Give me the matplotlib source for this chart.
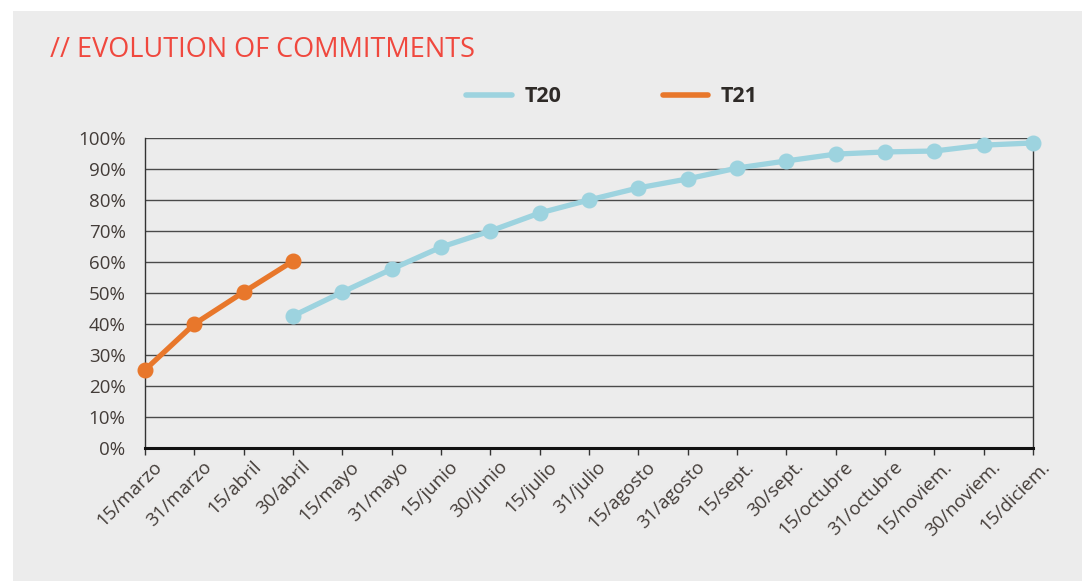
import matplotlib.pyplot as plt
from matplotlib.patches import Rectangle
from matplotlib.lines import Line2D
import matplotlib.transforms as mtransforms
import numpy as np

fechas = ['15/marzo', '31/marzo', '15/abril', '30/abril', '15/mayo', '31/mayo',
          '15/junio', '30/junio', '15/julio', '31/julio', '15/agosto', '31/agosto',
          '15/sept.', '30/sept.', '15/octubre', '31/octubre', '15/noviem.',
          '30/noviem.', '15/diciem.']

t21 = [25.2, 40.0, 50.3, 60.3]
t20 = [42.6, 50.3, 57.7, 64.8, 70.0, 75.8, 80.0, 83.9, 86.8, 90.3, 92.6,
       94.8, 95.5, 95.8, 97.7, 98.4]

c20 = '#9dd3df'
c21 = '#e8772b'
txt = '#433c38'
bg = '#ececec'

W, H = 1082, 581
fig = plt.figure(figsize=(W / 100, H / 100), dpi=100, facecolor='white')
fig.patches.append(Rectangle((13 / W, 0), 1 - 13 / W, 1 - 11 / H,
                             transform=fig.transFigure, facecolor=bg,
                             edgecolor='none', zorder=-10))

ax = fig.add_axes([145 / W, 1 - 448 / H, (1033 - 145) / W, (448 - 138) / H])
ax.set_facecolor(bg)

x = np.arange(len(fechas))
x21 = x[:len(t21)]
x20 = x[len(fechas) - len(t20):]

ax.plot(x20, t20, color=c20, lw=3.8, marker='o', ms=10.5, zorder=3,
        clip_on=False, solid_capstyle='round')
ax.plot(x21, t21, color=c21, lw=3.8, marker='o', ms=10.5, zorder=4,
        clip_on=False, solid_capstyle='round')

ax.set_xlim(0, len(fechas) - 1)
ax.set_ylim(0, 100)
ax.set_yticks(np.arange(0, 101, 10))
ax.set_yticklabels([f'{v}%' for v in range(0, 101, 10)])
ax.yaxis.grid(True, color='#4a4a4a', lw=1.0)
ax.set_axisbelow(True)

ax.spines['top'].set_visible(False)
ax.spines['left'].set_color('#333333')
ax.spines['left'].set_linewidth(1.0)
ax.spines['right'].set_color('#333333')
ax.spines['right'].set_linewidth(1.0)
ax.spines['bottom'].set_color('#111111')
ax.spines['bottom'].set_linewidth(2.2)

ax.tick_params(axis='y', length=0, pad=14, labelsize=13.5, labelcolor=txt)
ax.tick_params(axis='x', length=5, width=1, color='#333333', pad=2,
               labelsize=13.5, labelcolor=txt)
ax.set_xticks(x)
ax.set_xticklabels(fechas, rotation=45, ha='right', va='top',
                   rotation_mode='anchor')
shift = mtransforms.ScaledTranslation(8 / 100, 0, fig.dpi_scale_trans)
for lab in ax.get_xticklabels():
    lab.set_transform(lab.get_transform() + shift)
for lab in ax.get_xticklabels() + ax.get_yticklabels():
    lab.set_family('Open Sans')

fig.text(50 / W, 1 - 50 / H, '// EVOLUTION OF COMMITMENTS', color='#f0483e',
         fontsize=19.5, family='Open Sans', va='center', ha='left')

handles = [Line2D([], [], color=c20, lw=4, solid_capstyle='round'),
           Line2D([], [], color=c21, lw=4, solid_capstyle='round')]
leg = fig.legend(handles, ['T20', 'T21'], loc='center',
                 bbox_to_anchor=(612 / W, 1 - 97 / H), ncol=2, frameon=False,
                 handlelength=2.1, columnspacing=4.7, handletextpad=0.6,
                 prop={'family': 'Open Sans', 'weight': 'bold', 'size': 15.5})
for t in leg.get_texts():
    t.set_color('#2e2a27')

fig.savefig('out.png', dpi=100, facecolor='white')
